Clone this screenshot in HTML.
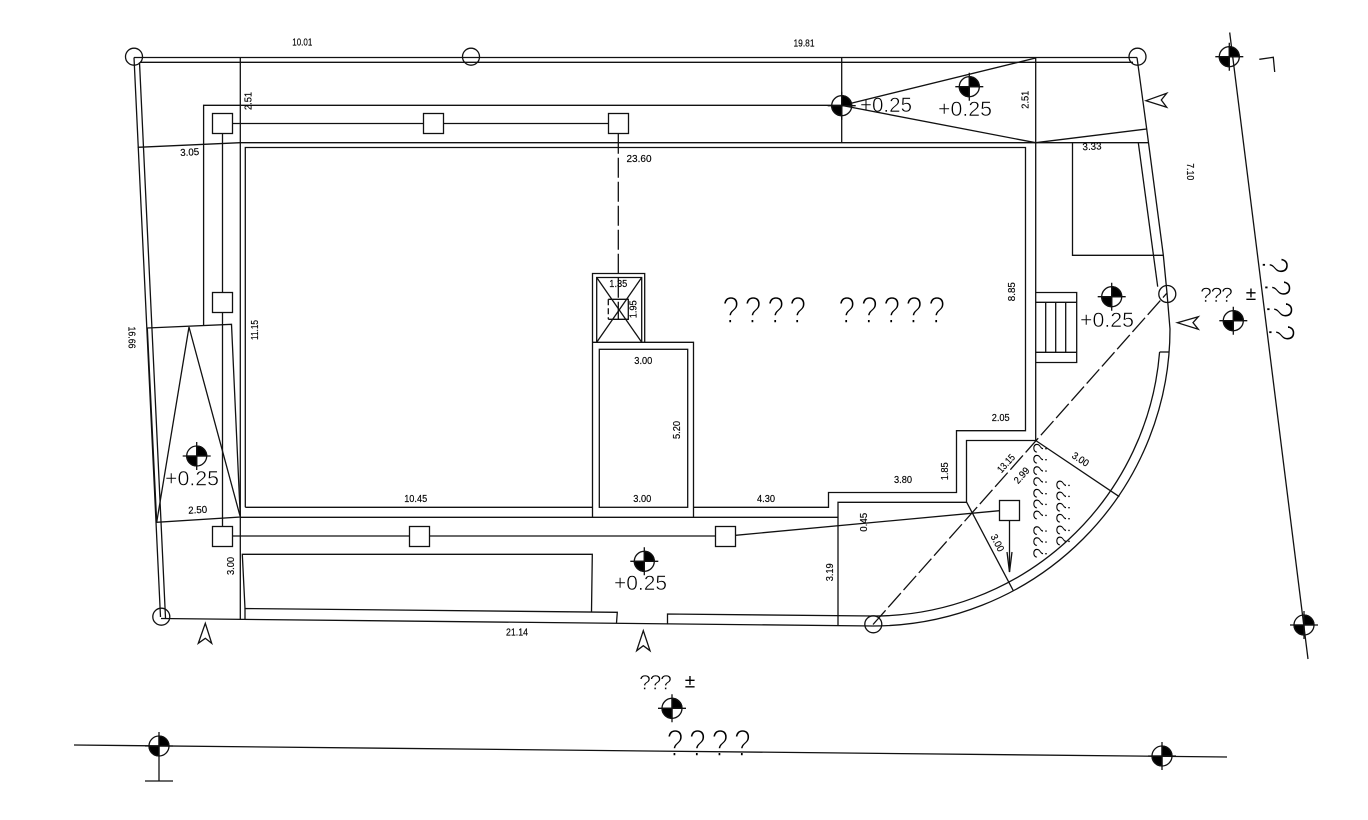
<!DOCTYPE html>
<html lang="en">
<head>
<meta charset="utf-8">
<title>Site plan</title>
<style>
html,body{margin:0;padding:0;background:#fff;}
svg{display:block;}
.l{fill:none;stroke:#111;stroke-width:1.3;}
.d{font-family:"Liberation Sans",sans-serif;font-size:10px;fill:#000;stroke:#000;stroke-width:.15px;text-anchor:middle;dominant-baseline:central;}
.e{font-family:"Liberation Sans",sans-serif;font-size:21px;fill:#000;stroke:#fff;stroke-width:.5px;}
.q{font-family:"Liberation Sans",sans-serif;font-size:38px;fill:#000;stroke:#fff;stroke-width:1.4px;text-anchor:middle;}
.m{font-family:"Liberation Sans",sans-serif;font-size:21px;fill:#000;stroke:#fff;stroke-width:.5px;text-anchor:middle;}
.s{font-family:"Liberation Sans",sans-serif;font-size:20px;fill:#000;stroke:#fff;stroke-width:.5px;text-anchor:middle;}
.p{font-family:"Liberation Sans",sans-serif;font-size:19px;fill:#000;text-anchor:middle;}
</style>
</head>
<body>
<svg xmlns="http://www.w3.org/2000/svg" width="1368" height="820" viewBox="0 0 1368 820">
<rect width="1368" height="820" fill="#fff"/>

<!-- Large question-mark labels -->
<g class="q">
<text transform="translate(730.7,323) scale(.8,1)">?</text>
<text transform="translate(753,323) scale(.8,1)">?</text>
<text transform="translate(775.7,323) scale(.8,1)">?</text>
<text transform="translate(797.7,323) scale(.8,1)">?</text>
<text transform="translate(846.7,323) scale(.8,1)">?</text>
<text transform="translate(869.3,323) scale(.8,1)">?</text>
<text transform="translate(891.7,323) scale(.8,1)">?</text>
<text transform="translate(914,323) scale(.8,1)">?</text>
<text transform="translate(936.7,323) scale(.8,1)">?</text>
<text transform="translate(675,756) scale(.8,1)">?</text>
<text transform="translate(697.3,756) scale(.8,1)">?</text>
<text transform="translate(720,756) scale(.8,1)">?</text>
<text transform="translate(742.3,756) scale(.8,1)">?</text>
<text transform="translate(1262,265.3) rotate(90) scale(.8,1)">?</text>
<text transform="translate(1264.5,288) rotate(90) scale(.8,1)">?</text>
<text transform="translate(1266.5,309.7) rotate(90) scale(.8,1)">?</text>
<text transform="translate(1268.5,332.7) rotate(90) scale(.8,1)">?</text>
</g>

<!-- Small question-mark labels -->
<g class="m">
<text x="1206" y="302">?</text><text x="1216.5" y="302">?</text><text x="1227" y="302">?</text>
<text x="645" y="689.5">?</text><text x="655.5" y="689.5">?</text><text x="666" y="689.5">?</text>
</g>
<text class="p" x="1251" y="300">±</text>
<text class="p" x="690" y="687.5">±</text>

<!-- Stair labels -->
<g class="s">
<text transform="translate(1047,448.3) rotate(-90)">?</text>
<text transform="translate(1047,459.3) rotate(-90)">?</text>
<text transform="translate(1047,470.7) rotate(-90)">?</text>
<text transform="translate(1047,481.7) rotate(-90)">?</text>
<text transform="translate(1047,493.3) rotate(-90)">?</text>
<text transform="translate(1047,504) rotate(-90)">?</text>
<text transform="translate(1047,515) rotate(-90)">?</text>
<text transform="translate(1047,530.7) rotate(-90)">?</text>
<text transform="translate(1047,541.7) rotate(-90)">?</text>
<text transform="translate(1047,553.3) rotate(-90)">?</text>
<text transform="translate(1070,485) rotate(-90)">?</text>
<text transform="translate(1070,496) rotate(-90)">?</text>
<text transform="translate(1070,507.3) rotate(-90)">?</text>
<text transform="translate(1070,518.3) rotate(-90)">?</text>
<text transform="translate(1070,530) rotate(-90)">?</text>
<text transform="translate(1070,541) rotate(-90)">?</text>
</g>

<!-- Level labels -->
<g class="e">
<text x="860" y="112" textLength="52" lengthAdjust="spacingAndGlyphs">+0.25</text>
<text x="938" y="116" textLength="54" lengthAdjust="spacingAndGlyphs">+0.25</text>
<text x="1080" y="327" textLength="54" lengthAdjust="spacingAndGlyphs">+0.25</text>
<text x="165" y="485.5" textLength="54" lengthAdjust="spacingAndGlyphs">+0.25</text>
<text x="614" y="590" textLength="53" lengthAdjust="spacingAndGlyphs">+0.25</text>
</g>

<!-- Drawing lines -->
<g class="l">
<!-- Site boundary -->
<path d="M134 57.5H1137M140 62.3H1133"/>
<path d="M134 57.5L160.5 617M139.5 62.3L165.5 618"/>
<path d="M161 618.5L873 626"/>
<path d="M1137 57.5L1146.7 129L1163.3 255L1167 293L1170 329"/>
<path d="M1170 329A297 297 0 0 1 873 626"/>
<path d="M1159.6 352A287 287 0 0 1 873 616"/>
<path d="M1159.6 352H1169.5"/>
<path d="M1138.3 142.7L1157.7 286.7"/>

<!-- Main building -->
<path d="M240.3 57.5V143M240.3 517.3V620"/>
<path d="M137.7 147.3L240.3 142.7H1035.7"/>
<path d="M240.3 143V517.3"/>
<path d="M245.3 507.3V147.5H1025.5V430.7H956.5V492.5H828.5V507.3H693.5"/>
<path d="M592.5 507.3H245.3"/>
<path d="M240.3 517.3H838"/>
<path d="M1035.7 57.5V440.5H966.5V502.3H838V625.5"/>
<path d="M1035.7 440.5L1119.3 496.7"/>
<path d="M966.7 502.3L1013.3 590.7"/>
<path d="M1035.7 142.7L1146.7 129"/>
<path d="M1035.7 142.7H1148.5"/>
<path d="M1072.5 142.7V255.3H1163.3"/>

<!-- Top-right slab -->
<path d="M841.7 57.5V142.7"/>
<path d="M1035.7 58L842 105.5L1035.7 142.7"/>

<!-- Terrace -->
<path d="M203.6 325V105.3H842"/>
<path d="M222.5 123.5H618.5M222.5 123.5V536M222.5 536H725.5"/>
<path d="M735.5 535.3L999.5 510.7"/>
<path d="M1009.5 520.6V572"/>
<path d="M1007 552L1009.5 572L1012 552"/>

<!-- Left ramp -->
<path d="M147.3 328L231.5 324.3L240.3 517L156.7 522.3Z"/>
<path d="M156.7 522.3L189 327L240.3 517"/>

<!-- Lift and shaft -->
<path d="M592.5 517.3V273.5H644.7V342.3"/>
<path d="M592.5 342.3H693.5V517.3"/>
<path d="M596.7 342.3V277.5H641.7V342.3"/>
<path d="M596.7 277.5L641.7 342.3M641.7 277.5L596.7 342.3"/>
<rect x="599.3" y="349.3" width="88.4" height="158"/>
<path d="M608.3 299.3H628.3V319.3H608.3"/>
<path d="M608.3 299.3V319.3" stroke-dasharray="6 3"/>
<path d="M618.3 133.7V319.3" stroke-dasharray="20 4"/>
<path d="M873 624.5L1167 293" stroke-dasharray="19 4"/>

<!-- Stairs -->
<path d="M1035.7 292.5H1076.7V362.5H1035.7M1035.7 302.3H1076.7M1035.7 352.3H1076.7"/>
<path d="M1045.7 302.3V352.3M1055.7 302.3V352.3M1065.7 302.3V352.3"/>

<!-- Front planters -->
<path d="M245 608.5L242.3 554.3H592.3L591.5 612"/>
<path d="M245 619V608.5L617.3 612.3L616.5 623"/>
<path d="M667.5 624.5V614L873 616"/>

<!-- Reference lines -->
<path d="M1229.7 32.5L1308 659"/>
<path d="M74 745L1227 757"/>
<path d="M1259.3 59.3L1273.3 57.3L1274.7 72"/>
<path d="M159 760V781M145 781H173"/>

<!-- Column squares -->
<g fill="#fff">
<rect x="212.5" y="113.5" width="20" height="20"/>
<rect x="423.5" y="113.5" width="20" height="20"/>
<rect x="608.5" y="113.5" width="20" height="20"/>
<rect x="212.5" y="292.5" width="20" height="20"/>
<rect x="212.5" y="526.5" width="20" height="20"/>
<rect x="409.5" y="526.5" width="20" height="20"/>
<rect x="715.5" y="526.5" width="20" height="20"/>
<rect x="999.5" y="500.5" width="20" height="20"/>
</g>

<!-- Boundary circles -->
<circle cx="134" cy="56.7" r="8.5"/>
<circle cx="471" cy="56.7" r="8.5"/>
<circle cx="1137.5" cy="56.7" r="8.5"/>
<circle cx="161.3" cy="616.7" r="8.5"/>
<circle cx="1167.3" cy="294" r="8.5"/>
<circle cx="873.3" cy="624.3" r="8.5"/>

<!-- Open arrowheads -->
<path d="M205.3 623.3L198.3 643.3L205.3 638.3L211.7 643.3Z"/>
<path d="M643.3 630.7L636.7 650.7L643.3 645.7L650 650.7Z"/>
<path d="M1146 100.7L1166.7 93.3L1161.3 100L1166.7 107.3Z"/>
<path d="M1177.3 322.7L1198.3 316.7L1193 322.7L1198.3 329.3Z"/>

<!-- Level markers -->
<g transform="translate(841.7,105.7)"><path d="M0 0V-10A10 10 0 0 1 10 0ZM0 0V10A10 10 0 0 1-10 0Z" fill="#000"/><circle r="10"/><path d="M-14 0H14M0-14V14"/></g>
<g transform="translate(969.3,86.7)"><path d="M0 0V-10A10 10 0 0 1 10 0ZM0 0V10A10 10 0 0 1-10 0Z" fill="#000"/><circle r="10"/><path d="M-14 0H14M0-14V14"/></g>
<g transform="translate(1229.3,56.7)"><path d="M0 0V-10A10 10 0 0 1 10 0ZM0 0V10A10 10 0 0 1-10 0Z" fill="#000"/><circle r="10"/><path d="M-14 0H14M0-14V14"/></g>
<g transform="translate(1111.7,296.7)"><path d="M0 0V-10A10 10 0 0 1 10 0ZM0 0V10A10 10 0 0 1-10 0Z" fill="#000"/><circle r="10"/><path d="M-14 0H14M0-14V14"/></g>
<g transform="translate(1233.3,320.7)"><path d="M0 0V-10A10 10 0 0 1 10 0ZM0 0V10A10 10 0 0 1-10 0Z" fill="#000"/><circle r="10"/><path d="M-14 0H14M0-14V14"/></g>
<g transform="translate(196.7,456)"><path d="M0 0V-10A10 10 0 0 1 10 0ZM0 0V10A10 10 0 0 1-10 0Z" fill="#000"/><circle r="10"/><path d="M-14 0H14M0-14V14"/></g>
<g transform="translate(644.3,561.3)"><path d="M0 0V-10A10 10 0 0 1 10 0ZM0 0V10A10 10 0 0 1-10 0Z" fill="#000"/><circle r="10"/><path d="M-14 0H14M0-14V14"/></g>
<g transform="translate(672,708.3)"><path d="M0 0V-10A10 10 0 0 1 10 0ZM0 0V10A10 10 0 0 1-10 0Z" fill="#000"/><circle r="10"/><path d="M-14 0H14M0-14V14"/></g>
<g transform="translate(159,746)"><path d="M0 0V-10A10 10 0 0 1 10 0ZM0 0V10A10 10 0 0 1-10 0Z" fill="#000"/><circle r="10"/><path d="M-14 0H14M0-14V14"/></g>
<g transform="translate(1162,756)"><path d="M0 0V-10A10 10 0 0 1 10 0ZM0 0V10A10 10 0 0 1-10 0Z" fill="#000"/><circle r="10"/><path d="M-14 0H14M0-14V14"/></g>
<g transform="translate(1304,625)"><path d="M0 0V-10A10 10 0 0 1 10 0ZM0 0V10A10 10 0 0 1-10 0Z" fill="#000"/><circle r="10"/><path d="M-14 0H14M0-14V14"/></g>
</g>

<!-- Dimensions -->
<g class="d">
<text x="302.3" y="43" textLength="20" lengthAdjust="spacingAndGlyphs">10.01</text>
<text x="804" y="44" textLength="21" lengthAdjust="spacingAndGlyphs">19.81</text>
<text transform="translate(248.8,101) rotate(-90)" textLength="18" lengthAdjust="spacingAndGlyphs">2.51</text>
<text transform="translate(189.7,153) rotate(-3)" textLength="19" lengthAdjust="spacingAndGlyphs">3.05</text>
<text x="639" y="159.5" textLength="25" lengthAdjust="spacingAndGlyphs">23.60</text>
<text transform="translate(1026,99.7) rotate(-90)" textLength="18" lengthAdjust="spacingAndGlyphs">2.51</text>
<text transform="translate(1092,147.3) rotate(-3)" textLength="19" lengthAdjust="spacingAndGlyphs">3.33</text>
<text transform="translate(1189.3,171.7) rotate(90)" textLength="17" lengthAdjust="spacingAndGlyphs">7.10</text>
<text transform="translate(1012.7,291.7) rotate(-90)" textLength="19" lengthAdjust="spacingAndGlyphs">8.85</text>
<text x="618.3" y="284.3" textLength="18" lengthAdjust="spacingAndGlyphs">1.35</text>
<text transform="translate(634,309.3) rotate(-90)" textLength="18" lengthAdjust="spacingAndGlyphs">1.95</text>
<text x="643.3" y="361.3" textLength="18" lengthAdjust="spacingAndGlyphs">3.00</text>
<text x="642.3" y="499.3" textLength="18" lengthAdjust="spacingAndGlyphs">3.00</text>
<text transform="translate(677.3,430) rotate(-90)" textLength="18" lengthAdjust="spacingAndGlyphs">5.20</text>
<text x="766" y="499.3" textLength="18" lengthAdjust="spacingAndGlyphs">4.30</text>
<text x="903" y="480.3" textLength="18" lengthAdjust="spacingAndGlyphs">3.80</text>
<text transform="translate(945.7,471.3) rotate(-90)" textLength="18" lengthAdjust="spacingAndGlyphs">1.85</text>
<text x="1000.7" y="418.3" textLength="18" lengthAdjust="spacingAndGlyphs">2.05</text>
<text transform="translate(1006.7,464) rotate(-48)" textLength="21" lengthAdjust="spacingAndGlyphs">13.15</text>
<text transform="translate(1022.3,476) rotate(-48)" textLength="18" lengthAdjust="spacingAndGlyphs">2.99</text>
<text transform="translate(1080,460) rotate(33)" textLength="18" lengthAdjust="spacingAndGlyphs">3.00</text>
<text transform="translate(996.7,543.3) rotate(63)" textLength="18" lengthAdjust="spacingAndGlyphs">3.00</text>
<text transform="translate(864.7,522.3) rotate(-90)" textLength="19" lengthAdjust="spacingAndGlyphs">0.45</text>
<text transform="translate(830.3,572.3) rotate(-90)" textLength="18" lengthAdjust="spacingAndGlyphs">3.19</text>
<text transform="translate(255.3,330) rotate(-90)" textLength="20" lengthAdjust="spacingAndGlyphs">11.15</text>
<text x="415.7" y="499.3" textLength="23" lengthAdjust="spacingAndGlyphs">10.45</text>
<text transform="translate(197.7,510.7) rotate(-3)" textLength="19" lengthAdjust="spacingAndGlyphs">2.50</text>
<text transform="translate(231.7,566) rotate(-90)" textLength="18" lengthAdjust="spacingAndGlyphs">3.00</text>
<text x="517" y="633" textLength="22" lengthAdjust="spacingAndGlyphs">21.14</text>
<text transform="translate(131,337.5) rotate(90)" textLength="22" lengthAdjust="spacingAndGlyphs">16.66</text>
</g>
</svg>
</body>
</html>
